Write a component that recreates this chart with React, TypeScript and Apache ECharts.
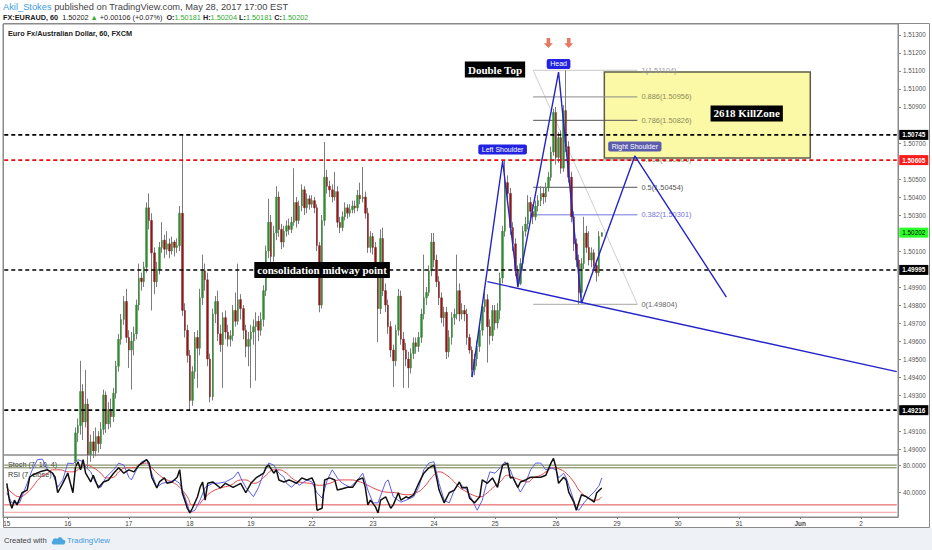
import React, { useEffect, useRef } from "react";
import * as echarts from "echarts";

// ---------- data ----------
const dayLabels = ["15", "16", "17", "18", "19", "22", "23", "24", "25", "26", "29", "30", "31", "Jun", "2"];
const firstOpen = 1.4862;

const closes = [
  1.4858, 1.4851, 1.4847, 1.4853, 1.4849, 1.4856, 1.4861, 1.4859, 1.4867, 1.4872,
  1.4870, 1.4876, 1.4879, 1.4877, 1.4881, 1.4884, 1.4880, 1.4878, 1.4873, 1.4866,
  1.4868, 1.4875, 1.4882, 1.4886, 1.4879, 1.4874, 1.4893, 1.4909, 1.4913, 1.4932,
  1.4915, 1.4925, 1.4897, 1.4904, 1.4899, 1.4907, 1.4903, 1.4911, 1.4930, 1.4914,
  1.4922, 1.4918, 1.4931, 1.4946, 1.4961, 1.4972, 1.4982, 1.4962, 1.4955, 1.4960,
  1.4964, 1.4980, 1.4995, 1.4993, 1.5001, 1.5034, 1.5027, 1.5009, 1.4993, 1.5000,
  1.5012, 1.5016, 1.5011, 1.5014, 1.5010, 1.5015, 1.5012, 1.5013, 1.5031, 1.4977,
  1.4966, 1.4952, 1.4927, 1.4943, 1.4962, 1.4956, 1.4984, 1.4999, 1.4994, 1.4950,
  1.4929, 1.4975, 1.4982, 1.4964, 1.4958, 1.4973, 1.4965, 1.4961, 1.4963, 1.4977,
  1.4971, 1.4983, 1.4978, 1.4966, 1.4957, 1.4961, 1.4965, 1.4968, 1.4971, 1.4966,
  1.4972, 1.4988, 1.5010, 1.5026, 1.5007, 1.5020, 1.5040, 1.5022, 1.5015, 1.5021,
  1.5024, 1.5022, 1.5026, 1.5037, 1.5027, 1.5035, 1.5044, 1.5034, 1.5039, 1.5036,
  1.5038, 1.5034, 1.5013, 1.4980, 1.5027, 1.5051, 1.5046, 1.5044, 1.5040, 1.5043,
  1.5026, 1.5023, 1.5029, 1.5034, 1.5031, 1.5033, 1.5035, 1.5034, 1.5041, 1.5039,
  1.5040, 1.5031, 1.5012, 1.5018, 1.5012, 1.4998, 1.4978, 1.5017, 1.4988, 1.4980,
  1.4968, 1.4955, 1.4949, 1.4966, 1.4985, 1.4961, 1.4955, 1.4950, 1.4945, 1.4953,
  1.4959, 1.4957, 1.4962, 1.4975, 1.4984, 1.4987, 1.4999, 1.5015, 1.5005, 1.4993,
  1.4984, 1.4973, 1.4976, 1.4954, 1.4962, 1.4973, 1.4975, 1.4988, 1.4975, 1.4977,
  1.4975, 1.4962, 1.4955, 1.4944, 1.4950, 1.4957, 1.4966, 1.4979, 1.4983, 1.4968,
  1.4963, 1.4977, 1.4970, 1.4977, 1.4995, 1.5021, 1.5048, 1.5042, 1.5023, 1.5014,
  1.4999, 1.4992, 1.5003, 1.5021, 1.5025, 1.5037, 1.5032, 1.5029, 1.5035, 1.5038,
  1.5042, 1.5040, 1.5045, 1.5051, 1.5065, 1.5087, 1.5062, 1.5073, 1.5056, 1.5088,
  1.5068, 1.5051, 1.5029, 1.5014, 1.5005, 1.4987, 1.5003, 1.5020, 1.5012, 1.5005,
  1.5009, 1.5002, 1.4998, 1.50181, 1.50202,
];

const highs = [
  1.4866, 1.4860, 1.4855, 1.4856, 1.4857, 1.4859, 1.4864, 1.4866, 1.4870, 1.4876,
  1.4877, 1.4879, 1.4883, 1.4882, 1.4885, 1.4887, 1.4886, 1.4883, 1.4880, 1.4875,
  1.4871, 1.4878, 1.4885, 1.4889, 1.4888, 1.4882, 1.4896, 1.4912, 1.4917, 1.4949,
  1.4936, 1.4944, 1.4928, 1.4908, 1.4910, 1.4912, 1.4910, 1.4915, 1.4933, 1.4932,
  1.4926, 1.4928, 1.4934, 1.4949, 1.4964, 1.4975, 1.4985, 1.4989, 1.4966, 1.4965,
  1.4968, 1.4983, 1.5003, 1.4998, 1.5004, 1.5037, 1.5042, 1.5031, 1.5012, 1.5004,
  1.5015, 1.5026, 1.5019, 1.5021, 1.5017, 1.5018, 1.5016, 1.5017, 1.5035, 1.50745,
  1.4981, 1.4969, 1.4955, 1.4946, 1.4965, 1.4966, 1.4989, 1.5008, 1.5003, 1.4998,
  1.4953, 1.4978, 1.4985, 1.4988, 1.4969, 1.4976, 1.4977, 1.4969, 1.4966, 1.4980,
  1.4987, 1.5003, 1.4986, 1.4980, 1.4969, 1.4965, 1.4969, 1.4972, 1.4976, 1.4974,
  1.4976, 1.4991, 1.5013, 1.5039, 1.5030, 1.5024, 1.5046, 1.5043, 1.5025, 1.5024,
  1.5027, 1.5028, 1.5029, 1.5056, 1.5040, 1.5038, 1.5047, 1.5046, 1.5042, 1.5041,
  1.5041, 1.5040, 1.5036, 1.5015, 1.5030, 1.50706, 1.5055, 1.5049, 1.5047, 1.5054,
  1.5046, 1.5029, 1.5032, 1.5037, 1.5036, 1.5036, 1.5038, 1.5038, 1.5044, 1.5048,
  1.50567, 1.5043, 1.5034, 1.5021, 1.5020, 1.5015, 1.5001, 1.5022, 1.5023, 1.4992,
  1.4983, 1.4971, 1.4958, 1.4969, 1.4989, 1.4988, 1.4965, 1.4959, 1.4954, 1.4956,
  1.4962, 1.4962, 1.4965, 1.4978, 1.5008, 1.4990, 1.5002, 1.5020, 1.5020, 1.5008,
  1.4996, 1.4987, 1.4979, 1.4979, 1.4966, 1.4976, 1.4978, 1.5008, 1.4992, 1.4981,
  1.4980, 1.4978, 1.4964, 1.4957, 1.4953, 1.4960, 1.4969, 1.4982, 1.4987, 1.4986,
  1.4972, 1.4980, 1.4980, 1.4981, 1.4998, 1.5024, 1.50605, 1.5052, 1.5045, 1.5026,
  1.5017, 1.5002, 1.5006, 1.5024, 1.5029, 1.5041, 1.5040, 1.5036, 1.5038, 1.5041,
  1.5046, 1.5045, 1.5048, 1.5054, 1.5068, 1.5089, 1.5090, 1.5076, 1.5077, 1.5091,
  1.51104, 1.5071, 1.5054, 1.5032, 1.5017, 1.5008, 1.5006, 1.5029, 1.5024, 1.5021,
  1.5012, 1.5011, 1.5005, 1.5021, 1.50204,
];

const lows = [
  1.4852, 1.4846, 1.4843, 1.4844, 1.4845, 1.4847, 1.4853, 1.4855, 1.4856, 1.4864,
  1.4866, 1.4867, 1.4872, 1.4873, 1.4874, 1.4878, 1.4876, 1.4874, 1.4869, 1.4862,
  1.4863, 1.4866, 1.4873, 1.4879, 1.4875, 1.4870, 1.4872, 1.4890, 1.4904, 1.4908,
  1.4905, 1.4912, 1.4889, 1.4893, 1.4895, 1.4896, 1.4898, 1.4900, 1.4908, 1.4909,
  1.4911, 1.4912, 1.4915, 1.4928, 1.4943, 1.4958, 1.4969, 1.4959, 1.4945, 1.4933,
  1.4952, 1.4961, 1.4977, 1.4988, 1.4990, 1.4998, 1.5022, 1.4977, 1.4986, 1.4990,
  1.4997, 1.5009, 1.5006, 1.5008, 1.5006, 1.5008, 1.5007, 1.5009, 1.5010, 1.4974,
  1.4962, 1.4948, 1.49217, 1.4924, 1.4939, 1.4934, 1.4952, 1.4980, 1.4988, 1.4946,
  1.4926, 1.4927, 1.4970, 1.4960, 1.4954, 1.4934, 1.4961, 1.4957, 1.4957, 1.4960,
  1.4968, 1.4969, 1.4972, 1.4961, 1.4951, 1.4946, 1.4934, 1.4958, 1.4938, 1.4960,
  1.4963, 1.4968, 1.4985, 1.5006, 1.5003, 1.5004, 1.5016, 1.5018, 1.5011, 1.5012,
  1.5018, 1.5019, 1.5020, 1.5024, 1.5023, 1.5025, 1.5032, 1.5030, 1.5031, 1.5033,
  1.5034, 1.5031, 1.5010, 1.4976, 1.4978, 1.5024, 1.5042, 1.5040, 1.5037, 1.5038,
  1.5023, 1.5020, 1.5021, 1.5027, 1.5028, 1.5029, 1.5031, 1.5031, 1.5032, 1.5036,
  1.5037, 1.5028, 1.5009, 1.5009, 1.5008, 1.4995, 1.49594, 1.4975, 1.4985, 1.4976,
  1.4964, 1.4951, 1.49344, 1.4946, 1.4963, 1.4958, 1.4934, 1.4946, 1.4934, 1.4942,
  1.4950, 1.4953, 1.4954, 1.4959, 1.4972, 1.4980, 1.4985, 1.4996, 1.5001, 1.4990,
  1.4980, 1.4970, 1.4968, 1.4950, 1.4951, 1.4958, 1.4969, 1.4972, 1.4971, 1.4972,
  1.4971, 1.4958, 1.4953, 1.4940, 1.4941, 1.4946, 1.4954, 1.4963, 1.4976, 1.4948,
  1.4958, 1.4960, 1.4966, 1.4967, 1.4972, 1.4992, 1.5018, 1.5038, 1.5019, 1.5010,
  1.4996, 1.4990, 1.4991, 1.5000, 1.5018, 1.5022, 1.5028, 1.5025, 1.5027, 1.5032,
  1.5035, 1.5036, 1.5037, 1.5043, 1.5049, 1.5063, 1.5058, 1.5059, 1.5053, 1.5054,
  1.5065, 1.5048, 1.5026, 1.5010, 1.5001, 1.49804, 1.4984, 1.5000, 1.5009, 1.5002,
  1.5001, 1.4999, 1.4993, 1.4996, 1.50181,
];

const priceTicks = [1.513, 1.512, 1.511, 1.51, 1.509, 1.507, 1.505, 1.504, 1.503, 1.501, 1.499, 1.498, 1.497, 1.496, 1.495, 1.494, 1.493, 1.491, 1.49];
const levelValues = [1.50745, 1.50605, 1.49995, 1.49216];
const changeText = "+0.00106 (+0.07%)";

// annotations in (bar index from 15th 00:00, price)
const hsPattern = [[183, 1.494], [195, 1.506], [201, 1.499], [217, 1.51094], [226, 1.4981], [247, 1.50628], [283, 1.49844]];
const wedgeLine = [[189, 1.4993], [350, 1.4943]];
const fibRange = [207, 248];
const fibRatios = ["1", "0.886", "0.786", "0.618", "0.5", "0.382", "0"];
const fibPrices = [1.51104, 1.50956, 1.50826, 1.50606, 1.50454, 1.50301, 1.49804];
const killZone = [235, 1.51094, 316, 1.50617];
const noteTexts = ["Double Top", "consolidation midway point", "2618 KillZone"];
const notePoints = [[192, 1.51108], [124, 1.49995], [291, 1.50864]];
const tagTexts = ["Left Shoulder", "Head", "Right Shoulder"];
const tagPoints = [[195, 1.50664], [217, 1.51139], [247, 1.5068]];
const arrowPoints = [[213, 1.51256], [221, 1.51256]];

// indicator pane: [bar index, value]
const rsiLine = [[0,53],[1,28],[2,16],[3,28],[4,21],[6,39],[8,43],[9,62],[10,65],[13,70],[16,73],[18,68],[19,62],[20,39],[22,53],[24,68],[25,53],[26,39],[27,77],[28,85],[29,73],[30,88],[31,68],[33,55],[34,65],[36,46],[38,55],[40,58],[42,68],[44,76],[46,68],[48,73],[50,70],[52,80],[55,88],[56,83],[57,62],[59,46],[60,55],[62,61],[63,53],[65,55],[67,62],[68,73],[69,39],[70,28],[71,16],[72,9],[73,16],[75,33],[76,47],[77,55],[78,28],[79,53],[81,55],[84,46],[86,53],[89,47],[92,53],[94,39],[96,53],[98,61],[101,68],[102,77],[103,80],[105,68],[106,73],[107,58],[109,55],[111,58],[114,53],[116,61],[118,58],[120,61],[121,53],[122,13],[124,16],[125,58],[127,61],[129,58],[130,43],[132,45],[134,47],[136,47],[138,58],[140,61],[141,47],[142,21],[143,28],[145,18],[146,9],[147,28],[149,33],[151,16],[152,21],[154,39],[155,28],[157,33],[158,31],[160,36],[162,53],[164,68],[166,76],[168,80],[169,62],[170,43],[172,24],[174,39],[176,43],[178,55],[179,46],[181,47],[182,31],[184,24],[186,33],[187,58],[189,53],[191,61],[193,47],[194,65],[195,80],[197,83],[198,61],[199,62],[201,47],[202,55],[204,58],[206,62],[208,62],[210,62],[212,65],[214,83],[215,90],[216,76],[217,53],[219,62],[220,58],[221,40],[223,25],[224,13],[226,36],[228,33],[230,28],[231,25],[232,39],[234,46]];
const stochK = [[0,39],[2,24],[5,24],[8,53],[10,73],[12,88],[14,89],[16,73],[18,68],[20,47],[22,58],[24,83],[26,82],[28,88],[30,85],[31,77],[33,70],[35,53],[37,47],[39,62],[42,73],[44,83],[46,80],[48,62],[49,58],[51,73],[53,85],[55,88],[57,68],[59,47],[61,53],[64,55],[66,58],[68,53],[70,33],[72,10],[74,13],[76,28],[78,47],[81,53],[83,53],[86,55],[89,61],[91,70],[92,61],[94,47],[97,33],[99,47],[101,68],[103,83],[105,80],[107,68],[109,62],[110,53],[112,47],[114,55],[115,50],[118,58],[120,55],[122,39],[124,31],[126,58],[128,73],[130,61],[132,53],[135,47],[138,58],[140,68],[142,43],[144,24],[146,24],[149,55],[150,58],[152,33],[155,25],[157,28],[160,33],[162,47],[164,73],[166,83],[168,85],[170,53],[172,28],[174,24],[176,43],[178,53],[181,43],[183,28],[185,13],[187,28],[189,58],[190,70],[192,68],[194,76],[196,85],[198,73],[200,53],[202,40],[204,53],[206,73],[208,83],[210,83],[212,73],[214,76],[216,73],[217,61],[219,68],[220,61],[222,39],[224,16],[225,13],[227,24],[229,33],[231,40],[233,50],[234,61]];
const stochD = [[0,47],[2,39],[5,33],[8,39],[10,47],[13,61],[16,68],[18,73],[21,73],[24,70],[26,70],[29,76],[31,80],[34,76],[37,68],[39,61],[42,62],[44,70],[47,76],[50,76],[52,80],[55,83],[57,76],[60,65],[63,58],[65,55],[68,47],[71,33],[73,21],[75,21],[77,28],[80,39],[84,46],[88,50],[92,58],[94,58],[97,53],[99,55],[102,65],[105,73],[107,73],[110,68],[112,61],[115,55],[119,53],[123,50],[127,53],[131,58],[135,58],[139,55],[142,50],[146,43],[149,40],[153,39],[157,36],[161,39],[164,47],[167,61],[170,70],[173,65],[176,55],[178,47],[181,40],[183,36],[186,33],[189,39],[191,46],[194,55],[197,65],[199,62],[202,58],[205,55],[207,61],[210,65],[212,70],[215,76],[218,73],[220,68],[223,55],[225,43],[228,33],[231,28],[232,28],[234,33]];
const bandValues = [80, 76, 21, 10];
const indicatorTicks = [40, 80];

// ---------- chart ----------
const LEAD = 1;
const N_CATS = 352;
const SANS = "Liberation Sans, Arial, sans-serif";
const SERIF = "Liberation Serif, Times New Roman, serif";

echarts.graphic.registerShape(
  "tvlogo",
  echarts.graphic.extendPath("M4 12C1 12 0 9 2 7.5C2 4 6 3 8 5C9 2 14 2 15 6C18 6 19 9 17 11C16.5 11.8 16 12 15 12Z", {})
);

function buildCategories(): string[] {
  const cats: string[] = ["12|23"];
  dayLabels.forEach((d) => {
    for (let h = 0; h < 24; h++) cats.push(d + "|" + h);
  });
  return cats.slice(0, N_CATS);
}

const X = (i: number) => i + LEAD;
const isDayStart = (_idx: number, val: string) => String(val).endsWith("|0");

function levelSeries(v: number, lineStyle: any, label: any, gridIdx: number, z: number) {
  return {
    type: "line",
    xAxisIndex: gridIdx,
    yAxisIndex: gridIdx,
    z,
    silent: true,
    clip: false,
    symbol: "none",
    data: [[0, v], [N_CATS - 1, v]],
    lineStyle,
    endLabel: label ? { show: true, distance: 2.5, ...label } : { show: false },
  };
}

function buildOption() {
  const cats = buildCategories();
  const opens = closes.map((c, i) => (i === 0 ? firstOpen : closes[i - 1]));
  const wickData = closes.map((c, i) => [X(i), opens[i], c, lows[i], highs[i]]);
  const bodyData = closes.map((c, i) => [X(i), opens[i], c, Math.min(opens[i], c), Math.max(opens[i], c)]);
  const last = closes.length - 1;

  const fibLineColors = ["#c8c8c8", "#8a8a8a", "#555555", "#8a8a8a", "#555555", "#7474dc", "#a8a8a8"];
  const fibLabelColors = ["#9a9a9a", "#8c8a58", "#8c8a58", "#8c8a58", "#555555", "#7474dc", "#666666"];

  const fibSeries = fibPrices.map((p, k) => ({
    type: "line",
    xAxisIndex: 0,
    yAxisIndex: 0,
    z: 4,
    silent: true,
    clip: false,
    symbol: "none",
    data: [[X(fibRange[0]), p], [X(fibRange[1]), p]],
    lineStyle: { color: fibLineColors[k], width: 1 },
    endLabel: {
      show: true,
      formatter: `${fibRatios[k]}(${p.toFixed(5)})`,
      color: fibLabelColors[k],
      fontSize: 7.4,
      fontFamily: SANS,
      distance: 4,
    },
  }));

  const levelColor = ["#000000", "#e01010", "#000000", "#000000"];
  const levelBg = ["#000000", "#ff1a1a", "#000000", "#000000"];

  const levels = levelValues.map((v, k) =>
    levelSeries(
      v,
      { color: levelColor[k], width: 1.6, type: [4, 3] },
      {
        formatter: v.toFixed(5),
        backgroundColor: levelBg[k],
        color: "#ffffff",
        fontSize: 6.4,
        fontWeight: "bold",
        fontFamily: SANS,
        padding: [2, 3],
      },
      0,
      5
    )
  );
  levels.push(
    levelSeries(
      closes[last],
      { opacity: 0, width: 0 },
      {
        formatter: closes[last].toFixed(5),
        backgroundColor: "#2bff2b",
        color: "#000000",
        fontSize: 6.4,
        fontFamily: SANS,
        padding: [2, 3],
      },
      0,
      5
    )
  );
  const bandColors = ["#6b7a4b", "#6b7a4b", "#e24c4c", "#f29a9a"];
  const bands = bandValues.map((v, k) => levelSeries(v, { color: bandColors[k], width: 1 }, null, 1, 2));

  const headerLine2 =
    `{b|FX:EURAUD, 60}  ${closes[last].toFixed(5)} {g|▲} ${changeText}  ` +
    `{b|O:}{g|${opens[last].toFixed(5)}} {b|H:}{g|${highs[last].toFixed(5)}} ` +
    `{b|L:}{g|${lows[last].toFixed(5)}} {b|C:}{g|${closes[last].toFixed(5)}}`;

  return {
    animation: false,
    backgroundColor: "#ffffff",
    grid: [
      { left: 3, right: 34, top: 24, height: 431, show: true, borderColor: "#8a8a8a", borderWidth: 1, backgroundColor: "transparent" },
      { left: 3, right: 34, top: 455, height: 62, show: true, borderColor: "#8a8a8a", borderWidth: 1, backgroundColor: "transparent" },
    ],
    xAxis: [
      {
        type: "category",
        gridIndex: 0,
        data: cats,
        boundaryGap: true,
        axisLine: { show: false },
        axisTick: { show: false },
        axisLabel: { show: false },
        splitLine: { show: false },
      },
      {
        type: "category",
        gridIndex: 1,
        data: cats,
        boundaryGap: true,
        axisLine: { show: true, lineStyle: { color: "#8a8a8a" } },
        axisTick: { show: true, interval: isDayStart, alignWithLabel: true, length: 2, lineStyle: { color: "#777" } },
        axisLabel: {
          show: true,
          interval: isDayStart,
          formatter: (val: string) => {
            const d = String(val).split("|")[0];
            return d === "Jun" ? `{b|${d}}` : d;
          },
          rich: { b: { fontWeight: "bold", fontSize: 6.4, color: "#444", fontFamily: SANS } },
          fontSize: 6.4,
          color: "#444",
          fontFamily: SANS,
          margin: 3,
        },
        splitLine: { show: false },
      },
    ],
    yAxis: [
      {
        type: "value",
        gridIndex: 0,
        position: "right",
        min: 1.48967,
        max: 1.51361,
        axisLine: { show: true, lineStyle: { color: "#8a8a8a" } },
        axisTick: { show: true, length: 3, customValues: priceTicks, lineStyle: { color: "#8a8a8a" } },
        axisLabel: {
          show: true,
          customValues: priceTicks,
          formatter: (v: number) => v.toFixed(5),
          fontSize: 6.3,
          color: "#555",
          fontFamily: SANS,
          margin: 5,
        },
        splitLine: { show: false },
      },
      {
        type: "value",
        gridIndex: 1,
        position: "right",
        min: 3,
        max: 95,
        axisLine: { show: true, lineStyle: { color: "#8a8a8a" } },
        axisTick: { show: true, length: 3, customValues: indicatorTicks, lineStyle: { color: "#8a8a8a" } },
        axisLabel: {
          show: true,
          customValues: indicatorTicks,
          formatter: (v: number) => v.toFixed(4),
          fontSize: 6.3,
          color: "#555",
          fontFamily: SANS,
          margin: 5,
        },
        splitLine: { show: false },
      },
    ],
    series: [
      {
        type: "line",
        xAxisIndex: 0,
        yAxisIndex: 0,
        z: 2,
        silent: true,
        symbol: "none",
        data: [[X(fibRange[0]), fibPrices[0]], [X(fibRange[1]), fibPrices[fibPrices.length - 1]]],
        lineStyle: { color: "#cfcfcf", width: 1 },
      },
      {
        type: "custom",
        xAxisIndex: 0,
        yAxisIndex: 0,
        z: 3,
        silent: true,
        clip: false,
        data: [[X(killZone[0]), killZone[1], X(killZone[2]), killZone[3]]],
        renderItem: (_params: any, api: any) => {
          const a = api.coord([api.value(0), api.value(1)]);
          const b = api.coord([api.value(2), api.value(3)]);
          return {
            type: "rect",
            shape: { x: a[0], y: a[1], width: b[0] - a[0], height: b[1] - a[1] },
            style: { fill: "rgba(250,248,150,0.85)", stroke: "#5e5e44", lineWidth: 1.5 },
          };
        },
      },
      ...fibSeries,
      {
        type: "candlestick",
        xAxisIndex: 0,
        yAxisIndex: 0,
        z: 4,
        silent: true,
        clip: true,
        barWidth: 1,
        encode: { x: 0, y: [1, 2, 3, 4] },
        data: wickData,
        itemStyle: { color: "#7c7c7c", color0: "#7c7c7c", borderColor: "#7c7c7c", borderColor0: "#7c7c7c", borderWidth: 1 },
      },
      {
        type: "candlestick",
        xAxisIndex: 0,
        yAxisIndex: 0,
        z: 4,
        silent: true,
        clip: true,
        barWidth: 2,
        encode: { x: 0, y: [1, 2, 3, 4] },
        data: bodyData,
        itemStyle: { color: "#348a34", color0: "#8a1a1a", borderColor: "#348a34", borderColor0: "#8a1a1a", borderWidth: 0.4 },
      },
      ...levels,
      {
        type: "line",
        xAxisIndex: 0,
        yAxisIndex: 0,
        z: 6,
        silent: true,
        symbol: "none",
        data: hsPattern.map(([i, p]) => [X(i), p]),
        lineStyle: { color: "#2424c8", width: 1.4 },
      },
      {
        type: "line",
        xAxisIndex: 0,
        yAxisIndex: 0,
        z: 6,
        silent: true,
        symbol: "none",
        data: wedgeLine.map(([i, p]) => [X(i), p]),
        lineStyle: { color: "#2424c8", width: 1.4 },
      },
      {
        type: "scatter",
        xAxisIndex: 0,
        yAxisIndex: 0,
        z: 7,
        silent: true,
        symbolSize: 1,
        itemStyle: { color: "rgba(0,0,0,0)" },
        data: noteTexts.map((t, k) => ({ value: [X(notePoints[k][0]), notePoints[k][1]], label: { formatter: t } })),
        label: {
          show: true,
          position: "inside",
          opacity: 1,
          backgroundColor: "#000000",
          color: "#ffffff",
          fontFamily: SERIF,
          fontWeight: "bold",
          fontSize: 11,
          lineHeight: 12,
          padding: [2, 3],
        },
      },
      {
        type: "scatter",
        xAxisIndex: 0,
        yAxisIndex: 0,
        z: 7,
        silent: true,
        symbolSize: 1,
        itemStyle: { color: "rgba(0,0,0,0)" },
        data: tagTexts.map((t, k) => ({
          value: [X(tagPoints[k][0]), tagPoints[k][1]],
          label: { formatter: t, backgroundColor: k === 2 ? "#5c5cae" : "#2222e2" },
        })),
        label: {
          show: true,
          position: "inside",
          opacity: 1,
          color: "#ffffff",
          fontFamily: SANS,
          fontSize: 7,
          lineHeight: 8,
          padding: [1, 3.5],
          borderRadius: 2,
        },
      },
      {
        type: "scatter",
        xAxisIndex: 0,
        yAxisIndex: 0,
        z: 7,
        silent: true,
        symbol: "path://M3,0L7,0L7,6L10,6L5,11L0,6L3,6Z",
        symbolSize: [9, 10],
        itemStyle: { color: "#e0583a" },
        data: arrowPoints.map(([i, p]) => [X(i), p]),
      },
      ...bands,
      {
        type: "line",
        xAxisIndex: 1,
        yAxisIndex: 1,
        z: 3,
        silent: true,
        symbol: "none",
        smooth: 0.5,
        data: stochD.map(([i, v]) => [X(i), v]),
        lineStyle: { color: "#e44848", width: 1 },
      },
      {
        type: "line",
        xAxisIndex: 1,
        yAxisIndex: 1,
        z: 3,
        silent: true,
        symbol: "none",
        data: stochK.map(([i, v]) => [X(i), v]),
        lineStyle: { color: "#5d5df0", width: 1 },
      },
      {
        type: "line",
        xAxisIndex: 1,
        yAxisIndex: 1,
        z: 4,
        silent: true,
        symbol: "none",
        data: rsiLine.map(([i, v]) => [X(i), v]),
        lineStyle: { color: "#111111", width: 1.5 },
      },
    ],
    graphic: [
      {
        type: "rect",
        silent: true,
        shape: { x: 0, y: 528, width: 932, height: 22 },
        style: { fill: "#eef1f5" },
        z: 0,
      },
      {
        type: "rect",
        silent: true,
        shape: { x: 3.5, y: 23.5, width: 926, height: 504 },
        style: { fill: "none", stroke: "#8a8a8a", lineWidth: 1 },
      },
      {
        type: "text",
        silent: true,
        x: 3,
        y: 7,
        style: {
          text: "{a|Akil_Stokes} published on TradingView.com, May 28, 2017 17:00 EST",
          rich: { a: { fill: "#3d9be0", fontSize: 9.3, fontFamily: SANS } },
          fill: "#444",
          fontSize: 9.3,
          fontFamily: SANS,
          verticalAlign: "middle",
        },
      },
      {
        type: "text",
        silent: true,
        x: 3,
        y: 17,
        style: {
          text: headerLine2,
          rich: {
            b: { fontWeight: "bold", fill: "#222", fontSize: 7.3, fontFamily: SANS },
            g: { fill: "#33a833", fontSize: 7.3, fontFamily: SANS },
          },
          fill: "#222",
          fontSize: 7.3,
          fontFamily: SANS,
          verticalAlign: "middle",
        },
      },
      {
        type: "text",
        silent: true,
        x: 8,
        y: 33,
        style: { text: "Euro Fx/Australian Dollar, 60, FXCM", fill: "#222", fontSize: 7.3, fontWeight: "bold", fontFamily: SANS, verticalAlign: "middle" },
      },
      {
        type: "text",
        silent: true,
        x: 8,
        y: 464,
        style: { text: "Stoch (7, 10, 4)", fill: "#333", fontSize: 7.2, fontFamily: SANS, verticalAlign: "middle" },
      },
      {
        type: "text",
        silent: true,
        x: 8,
        y: 474.5,
        style: { text: "RSI (7, close)", fill: "#333", fontSize: 7.2, fontFamily: SANS, verticalAlign: "middle" },
      },
      {
        type: "text",
        silent: true,
        x: 4,
        y: 540,
        style: { text: "Created with", fill: "#444", fontSize: 7.6, fontFamily: SANS, verticalAlign: "middle" },
      },
      {
        type: "tvlogo",
        silent: true,
        x: 51,
        y: 535,
        scaleX: 0.8,
        scaleY: 0.8,
        style: { fill: "#49a6e0" },
      },
      {
        type: "text",
        silent: true,
        x: 67,
        y: 540,
        style: { text: "TradingView", fill: "#3d9be0", fontSize: 7.8, fontFamily: SANS, verticalAlign: "middle" },
      },
    ],
  };
}

export default function App() {
  const ref = useRef<HTMLDivElement>(null);
  useEffect(() => {
    if (!ref.current) return;
    const chart = echarts.init(ref.current, undefined, { renderer: "svg" });
    chart.setOption(buildOption() as any);
    return () => chart.dispose();
  }, []);
  return (
    <div
      ref={ref}
      style={{ position: "fixed", left: 0, top: 0, width: 932, height: 550, background: "#ffffff" }}
    />
  );
}
